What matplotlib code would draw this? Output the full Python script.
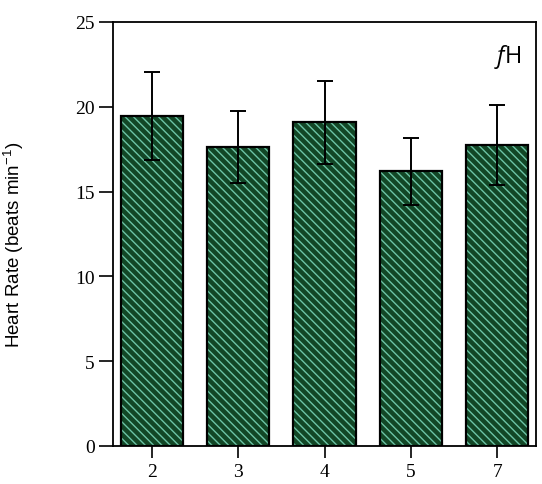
import matplotlib
matplotlib.use("Agg")
import matplotlib.pyplot as plt
import numpy as np

# Heart rate (fH) per group, mean with upper error
groups = ["2", "3", "4", "5", "7"]
heart_rate = [19.45, 17.62, 19.08, 16.19, 17.72]
heart_rate_err = [2.6, 2.12, 2.43, 1.98, 2.36]
y_ticks = [0, 5, 10, 15, 20, 25]

plt.rcParams["mathtext.fontset"] = "custom"
plt.rcParams["mathtext.rm"] = "Liberation Sans"
plt.rcParams["mathtext.it"] = "Liberation Sans:italic"
plt.rcParams["hatch.linewidth"] = 1.0

fig = plt.figure(figsize=(5.42, 4.85), dpi=100)
ax = fig.add_axes([0.2085, 0.0784, 0.7805, 0.8742])

x = np.arange(len(groups))
bar_w = 0.72

# patterned fill
ax.bar(x, heart_rate, width=bar_w, color="#124726", edgecolor="#6cc4a6",
       hatch="\\\\\\\\", linewidth=0, zorder=2)
# black outline
ax.bar(x, heart_rate, width=bar_w, fill=False, edgecolor="black",
       linewidth=1.6, zorder=3)

ax.errorbar(x, heart_rate, yerr=heart_rate_err, fmt="none", ecolor="black",
            elinewidth=1.4, capsize=6, capthick=1.4, zorder=4)

ax.set_xlim(-0.45, 4.45)
ax.set_ylim(0, 25)
ax.set_xticks(x)
ax.set_xticklabels(groups, family="Liberation Serif", fontsize=14)
ax.set_yticks(y_ticks)
ax.set_yticklabels([str(t) for t in y_ticks], family="Liberation Serif",
                   fontsize=14)

ax.tick_params(axis="y", length=10, width=1.2, pad=3)
ax.tick_params(axis="x", length=8.5, width=1.2, pad=4)
for s in ax.spines.values():
    s.set_linewidth(1.3)

ax.set_ylabel("Heart Rate (beats min$^{-1}$)", family="Liberation Sans",
              fontsize=13.5)
ax.yaxis.set_label_coords(-0.205, 0.476)

ax.text(0.925, 0.92, "f", transform=ax.transAxes, family="Open Sans",
        style="italic", fontsize=17, ha="right", va="center")
ax.text(0.927, 0.92, "H", transform=ax.transAxes, family="Open Sans",
        fontsize=17, ha="left", va="center")

fig.savefig("out.png", dpi=100)
